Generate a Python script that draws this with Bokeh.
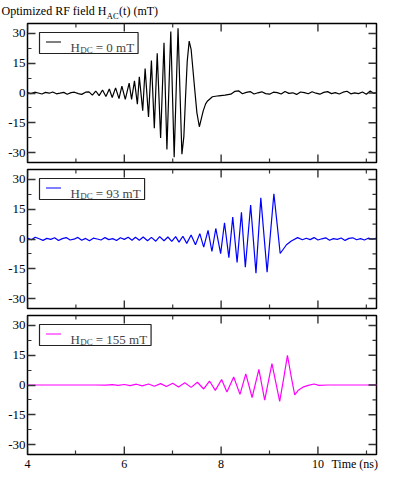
from bokeh.plotting import figure
from bokeh.layouts import column
from bokeh.models import Range1d, FixedTicker, Label, LinearAxis
from bokeh.embed import file_html
from bokeh.resources import INLINE

# ---------------- data ----------------
X_TICKS = [4, 6, 8, 10]
X_MINOR = [5, 7, 9, 11]
Y_TICKS = [-30, -15, 0, 15, 30]
Y_MINOR = [-22.5, -7.5, 7.5, 22.5]
Y_TICK_LABELS = {-30: "-30", -15: "-15", 0: "0", 15: "15", 30: "30"}
X_TICK_LABELS = {4: "4", 6: "6", 8: "8", 10: "10"}
X_TITLE = "Time (ns)"
Y_TITLE = ["Optimized RF field H", "AC", "(t) (mT)"]

LEGEND_VALUES = ["0 mT", "93 mT", "155 mT"]
COLORS = ["#000000", "#0000ff", "#ff00ff"]

# Panel 1 : H_DC = 0 mT
t1_pre = [4.00, 4.07, 4.15, 4.22, 4.30, 4.37, 4.45, 4.52, 4.60, 4.67, 4.75, 4.82,
          4.90, 4.97, 5.05, 5.12, 5.20]
v1_pre = [0.2, -0.3, 0.4, 0.0, -0.5, 0.3, -0.1, 0.5, -0.4, -0.1, 0.3, -0.6,
          0.2, 0.4, -0.3, -0.7, 0.4]
t1_osc = [5.27, 5.34, 5.41, 5.48, 5.55, 5.62, 5.69, 5.75, 5.82, 5.89, 5.95, 6.02,
          6.10, 6.15, 6.21, 6.27, 6.31, 6.38, 6.43, 6.50, 6.56, 6.62, 6.68, 6.75,
          6.82, 6.88, 6.96, 7.03, 7.11, 7.19, 7.23, 7.265, 7.30, 7.34, 7.38, 7.45,
          7.50, 7.55, 7.58, 7.63, 7.68, 7.72, 7.82, 7.95, 8.08, 8.20, 8.28]
v1_osc = [0.6, -1.1, 1.0, -1.3, 1.5, -1.8, 2.0, -2.3, 2.6, -2.8, 3.5, -3.2,
          5.0, -3.2, 6.1, -5.6, 8.2, -8.9, 12.3, -12.1, 16.3, -17.8, 20.0, -22.7,
          25.3, -28.4, 31.0, -32.4, 32.6, -30.8, -22.0, -2.0, 16.0, 26.1, 22.0, 3.0,
          -10.0, -17.0, -14.0, -9.0, -5.5, -4.0, -1.9, -1.4, -1.1, -0.6, 0.8]
t1_post = [8.36, 8.44, 8.52, 8.60, 8.68, 8.76, 8.84, 8.92, 9.00, 9.08, 9.16, 9.24,
           9.32, 9.40, 9.48, 9.56, 9.64, 9.72, 9.80, 9.88, 9.96, 10.04, 10.12, 10.20,
           10.28, 10.36, 10.44, 10.52, 10.60, 10.68, 10.76, 10.84, 10.92, 11.00,
           11.08, 11.16, 11.22]
v1_post = [1.1, -0.4, 0.3, 0.7, -0.5, 0.1, 0.6, -0.3, -0.6, 0.4, 0.2, -0.5,
           0.8, -0.2, 0.1, -0.7, 0.5, 0.2, -0.4, 0.6, -0.1, -0.6, 0.3, 0.7,
           -0.3, 0.2, -0.5, 0.4, 0.9, -0.4, 0.1, -0.3, 0.5, -0.6, 1.0, -0.2, 0.3]

# Panel 2 : H_DC = 93 mT
t2_pre = [4.00, 4.08, 4.16, 4.24, 4.32, 4.40, 4.48, 4.56, 4.64, 4.72, 4.80, 4.88,
          4.96, 5.04, 5.12, 5.20, 5.28, 5.36, 5.44, 5.52, 5.60, 5.68, 5.76, 5.84,
          5.92, 6.00, 6.08, 6.16]
v2_pre = [0.5, -0.4, 0.9, 0.1, -0.7, 0.3, -0.2, 0.6, -0.8, 0.2, 0.7, -0.5,
          -0.1, 0.8, -0.6, 0.3, -0.9, 0.4, 0.0, -0.5, 0.7, -0.3, 0.2, -0.8,
          0.6, -0.2, 0.9, -0.6]
t2_osc = [6.23, 6.31, 6.39, 6.48, 6.56, 6.65, 6.73, 6.82, 6.90, 6.98, 7.06, 7.13,
          7.21, 7.29, 7.38, 7.47, 7.56, 7.64, 7.73, 7.81, 7.89, 7.99, 8.07, 8.16,
          8.24, 8.33, 8.42, 8.50, 8.61, 8.72, 8.82, 8.95, 9.02, 9.09, 9.155, 9.22,
          9.35, 9.45, 9.58, 9.68]
v2_osc = [0.9, -0.6, 1.0, -0.9, 0.8, -1.1, 1.2, -0.9, 1.0, -1.2, 1.2, -1.6,
          1.4, -2.2, 2.0, -2.9, 2.7, -4.1, 4.3, -6.3, 5.3, -7.4, 8.2, -9.4,
          11.0, -11.8, 13.4, -14.2, 17.1, -17.2, 20.7, -16.7, 3.0, 22.8, 8.0, -7.3,
          -2.9, -1.0, 0.7, -0.4]
t2_post = [9.76, 9.84, 9.92, 10.00, 10.08, 10.16, 10.24, 10.32, 10.40, 10.48,
           10.56, 10.64, 10.72, 10.80, 10.88, 10.96, 11.04, 11.12, 11.20]
v2_post = [0.4, -0.3, 0.7, -0.5, 0.1, 0.6, -0.6, 0.2, -0.2, 0.5,
           -0.7, 0.3, 0.6, -0.4, 0.2, -0.5, 0.4, -0.1, 0.3]

# Panel 3 : H_DC = 155 mT
t3 = [4.00, 5.40, 5.62, 5.75, 5.87, 6.00, 6.12, 6.25, 6.37, 6.50, 6.62, 6.75,
      6.87, 7.00, 7.12, 7.25, 7.38, 7.51, 7.64, 7.76, 7.88, 8.01, 8.12, 8.26,
      8.39, 8.51, 8.64, 8.78, 8.90, 9.05, 9.21, 9.29, 9.37, 9.45, 9.52, 9.60,
      9.69, 9.80, 9.92, 10.02, 10.20, 11.22]
v3 = [0.0, 0.0, -0.1, 0.15, -0.2, 0.25, -0.3, 0.4, -0.45, 0.5, -0.6, 0.7,
      -0.8, 0.9, -1.0, 1.1, -1.2, 1.4, -2.0, 2.0, -2.7, 2.8, -3.5, 4.0,
      -4.7, 5.6, -6.3, 7.9, -7.6, 10.8, -8.2, 3.0, 14.9, 4.0, -5.0, -2.5,
      -1.1, -0.2, 0.5, -0.2, 0.0, 0.0]

SERIES = [
    (t1_pre + t1_osc + t1_post, v1_pre + v1_osc + v1_post),
    (t2_pre + t2_osc + t2_post, v2_pre + v2_osc + v2_post),
    (t3, v3),
]

# ---------------- layout / style ----------------
X0, X1 = 4.0, 11.21
Y0, Y1 = -35.0, 35.0
TOTAL_W = 379
BL, BR = 27, 3
FW, FH = TOTAL_W - BL - BR, 139
FONT = "Liberation Serif"
TICK_COLOR = "#333333"
MAJ_L, MIN_L = 8, 4
TIME_X = 10.76          # centre of the "Time (ns)" text on the time axis

# Times / Liberation Serif advance widths (per 1000 em)
ADV = {" ": 250, "=": 564, "m": 778, "T": 611, "H": 722, "D": 722, "C": 667,
       "A": 722, "O": 722, "p": 500, "t": 278, "i": 278, "z": 444, "e": 444,
       "d": 500, "R": 667, "F": 556, "f": 333, "l": 278, "(": 333, ")": 333}
for d in "0123456789":
    ADV[d] = 500


def text_w(s, size):
    return sum(ADV.get(c, 500) for c in s) * size / 1000.0


PPX = FW / (X1 - X0)
PPU = FH / (Y1 - Y0)


def tx(px):
    return X0 + px / PPX


def vy(px_from_top):
    return Y1 - px_from_top / PPU


def bare_axis(ax, line_height):
    ax.axis_line_color = None
    ax.major_tick_line_color = None
    ax.minor_tick_line_color = None
    ax.major_tick_in = ax.major_tick_out = 0
    ax.minor_tick_in = ax.minor_tick_out = 0
    ax.major_label_text_font = FONT
    ax.major_label_text_color = "black"
    ax.major_label_text_line_height = line_height


def tick_segments(p):
    x0s, x1s, y0s, y1s = [], [], [], []
    for x in X_TICKS:                       # top, major
        x0s.append(x); x1s.append(x); y0s.append(Y1); y1s.append(Y1 - MAJ_L / PPU)
    for y in Y_TICKS:                       # right, major
        x0s.append(X1); x1s.append(X1 - MAJ_L / PPX); y0s.append(y); y1s.append(y)
    for x in X_TICKS:                       # bottom, major
        x0s.append(x); x1s.append(x); y0s.append(Y0); y1s.append(Y0 + MAJ_L / PPU)
    p.segment(x0=x0s, x1=x1s, y0=y0s, y1=y1s, line_color=TICK_COLOR, line_width=1.4)
    x0s, x1s, y0s, y1s = [], [], [], []
    for x in X_MINOR:                       # top, minor
        x0s.append(x); x1s.append(x); y0s.append(Y1); y1s.append(Y1 - MIN_L / PPU)
    for y in Y_MINOR:                       # right, minor
        x0s.append(X1); x1s.append(X1 - MIN_L / PPX); y0s.append(y); y1s.append(y)
    p.segment(x0=x0s, x1=x1s, y0=y0s, y1=y1s, line_color=TICK_COLOR, line_width=1.2)


def make_panel(i, top_b, bot_b, show_x):
    p = figure(frame_width=FW, frame_height=FH,
               x_range=Range1d(X0, X1), y_range=Range1d(Y0, Y1),
               output_backend="svg", toolbar_location=None,
               x_axis_location="below" if show_x else None,
               min_border_left=BL, min_border_right=BR,
               min_border_top=top_b, min_border_bottom=bot_b,
               background_fill_color="white", border_fill_color="white")
    p.grid.visible = False
    p.outline_line_color = "black"
    p.outline_line_width = 1.5

    ya = p.left[0]
    ya.ticker = FixedTicker(ticks=Y_TICKS, minor_ticks=Y_MINOR)
    ya.major_label_overrides = Y_TICK_LABELS
    ya.axis_line_color = None
    ya.major_tick_in, ya.major_tick_out = MAJ_L, 0
    ya.minor_tick_in, ya.minor_tick_out = MIN_L, 0
    ya.major_tick_line_color = TICK_COLOR
    ya.minor_tick_line_color = TICK_COLOR
    ya.major_tick_line_width = 1.4
    ya.minor_tick_line_width = 1.2
    ya.major_label_text_font = FONT
    ya.major_label_text_font_size = "13px"
    ya.major_label_text_color = "black"
    ya.major_label_standoff = 2

    if show_x:
        xa = p.below[0]
        labels = dict(X_TICK_LABELS)
        labels[TIME_X] = X_TITLE
        xa.ticker = FixedTicker(ticks=X_TICKS + [TIME_X], minor_ticks=X_MINOR)
        xa.major_label_overrides = labels
        xa.axis_line_color = None
        xa.major_tick_in, xa.major_tick_out = 0, 0
        xa.major_tick_line_color = None
        xa.minor_tick_in, xa.minor_tick_out = MIN_L, 0
        xa.minor_tick_line_color = TICK_COLOR
        xa.minor_tick_line_width = 1.2
        xa.major_label_text_font = FONT
        xa.major_label_text_font_size = "12px"
        xa.major_label_text_color = "black"
        xa.major_label_standoff = 2

    t, v = SERIES[i]
    p.line(t, v, line_color=COLORS[i], line_width=1.2)

    tick_segments(p)
    if not show_x:
        p.segment(x0=X_MINOR, x1=X_MINOR, y0=[Y0] * len(X_MINOR),
                  y1=[Y0 + MIN_L / PPU] * len(X_MINOR), line_color=TICK_COLOR, line_width=1.2)

    # legend box
    box_l, box_t, box_b = 12, 9, 30
    h_x = box_l + 31
    dc_x = h_x + text_w("H", 13) + 0.3
    eq_x = dc_x + text_w("DC", 9) + 3
    eq_txt = "= " + LEGEND_VALUES[i]
    box_r = eq_x + text_w(eq_txt, 13) + 4
    p.quad(left=[tx(box_l)], right=[tx(box_r)], top=[vy(box_t)], bottom=[vy(box_b)],
           fill_color="white", line_color="#222222", line_width=1.2)
    p.line([tx(box_l + 6.5), tx(box_l + 21.5)], [vy(18.5), vy(18.5)],
           line_color=COLORS[i], line_width=1.2)
    p.add_layout(Label(x=X0, y=Y1, x_offset=h_x, y_offset=-23.5, text="H",
                       text_font=FONT, text_font_size="13px", text_baseline="alphabetic"))
    p.add_layout(Label(x=X0, y=Y1, x_offset=dc_x, y_offset=-26.5, text="DC",
                       text_font=FONT, text_font_size="9px", text_baseline="alphabetic"))
    p.add_layout(Label(x=X0, y=Y1, x_offset=eq_x, y_offset=-23.5, text=eq_txt,
                       text_font=FONT, text_font_size="13px", text_baseline="alphabetic"))
    return p


p1 = make_panel(0, 1, 3, False)
p2 = make_panel(1, 4, 3, False)
p3 = make_panel(2, 4, 17, True)

# quantity title above the top panel, set as labels of two bare top axes
start = 1 - BL                      # canvas x = 1, relative to the frame's left edge
w0 = text_w(Y_TITLE[0], 12)
w1 = text_w(Y_TITLE[1], 8.5)
w2 = text_w(Y_TITLE[2], 12)
xc_main = tx(start + w0 / 2)
xc_sub = tx(start + w0 + 0.3 + w1 / 2)
xc_tail = tx(start + w0 + w1 + 0.8 + w2 / 2)

ax_sub = LinearAxis(ticker=FixedTicker(ticks=[xc_sub], minor_ticks=[]),
                    major_label_overrides={xc_sub: Y_TITLE[1]})
bare_axis(ax_sub, 0.8)
ax_sub.major_label_text_font_size = "8.5px"
ax_sub.major_label_standoff = 3
p1.add_layout(ax_sub, "above")

ax_main = LinearAxis(ticker=FixedTicker(ticks=[xc_main, xc_tail], minor_ticks=[]),
                     major_label_overrides={xc_main: Y_TITLE[0], xc_tail: Y_TITLE[2]})
bare_axis(ax_main, 0.6)
ax_main.major_label_text_font_size = "12px"
ax_main.major_label_standoff = -10
p1.add_layout(ax_main, "above")

layout = column(p1, p2, p3, spacing=0)
open("out.html", "w").write(file_html(layout, INLINE))
